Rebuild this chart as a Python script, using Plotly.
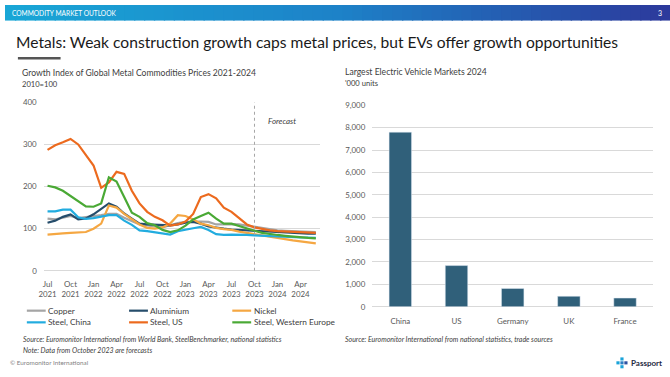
import plotly.graph_objects as go

# ---------------- data ----------------
months = ["Jul 2021", "Aug 2021", "Sep 2021", "Oct 2021", "Nov 2021", "Dec 2021",
          "Jan 2022", "Feb 2022", "Mar 2022", "Apr 2022", "May 2022", "Jun 2022",
          "Jul 2022", "Aug 2022", "Sep 2022", "Oct 2022", "Nov 2022", "Dec 2022",
          "Jan 2023", "Feb 2023", "Mar 2023", "Apr 2023", "May 2023", "Jun 2023",
          "Jul 2023", "Aug 2023", "Sep 2023", "Oct 2023", "Nov 2023", "Dec 2023",
          "Jan 2024", "Feb 2024", "Mar 2024", "Apr 2024", "May 2024", "Jun 2024"]
tick_months = ["Jul 2021", "Oct 2021", "Jan 2022", "Apr 2022", "Jul 2022", "Oct 2022",
               "Jan 2023", "Apr 2023", "Jul 2023", "Oct 2023", "Jan 2024", "Apr 2024"]
tick_labels = ["Jul<br>2021", "Oct<br>2021", "Jan<br>2022", "Apr<br>2022", "Jul<br>2022", "Oct<br>2022",
               "Jan<br>2023", "Apr<br>2023", "Jul<br>2023", "Oct<br>2023", "Jan<br>2024", "Apr<br>2024"]
forecast_start = "Oct 2023"

copper = [124, 122, 126, 130, 125, 127, 129, 132, 135, 135, 126, 118,
          110, 108, 106, 103, 108, 113, 116, 117, 117, 116, 110, 110,
          111, 110, 107, 104, 101, 98, 96, 95, 94, 93, 92, 92]
aluminium = [114, 119, 128, 134, 122, 124, 134, 147, 160, 152, 136, 124,
             112, 110, 109, 108, 108, 110, 114, 116, 112, 105, 102, 100,
             98, 97, 95, 94, 93, 92, 91, 90, 89, 89, 88, 88]
nickel = [86, 88, 89, 90, 91, 92, 100, 112, 155, 150, 135, 122,
          110, 102, 100, 103, 112, 132, 130, 122, 112, 108, 102, 99,
          97, 93, 90, 86, 83, 80, 77, 75, 72, 70, 68, 65]
steel_china = [141, 141, 145, 145, 127, 123, 125, 129, 132, 132, 119, 109,
               96, 94, 91, 88, 86, 94, 98, 101, 104, 97, 87, 85,
               86, 86, 85, 84, 83, 82, 81, 80, 80, 79, 79, 78]
steel_us = [287, 298, 305, 313, 300, 275, 250, 197, 210, 235, 230, 190,
            160, 140, 128, 120, 107, 110, 117, 135, 175, 182, 172, 150,
            140, 125, 110, 103, 99, 96, 94, 93, 92, 91, 91, 90]
steel_we = [202, 198, 190, 178, 166, 153, 152, 160, 222, 212, 175, 138,
            128, 113, 108, 97, 92, 96, 107, 122, 130, 138, 124, 112,
            112, 106, 100, 95, 90, 87, 85, 83, 81, 80, 78, 77]

ev_markets = ["China", "US", "Germany", "UK", "France"]
ev_units = [7800, 1840, 820, 470, 390]

series = [
    ("Copper", copper, "#a5a5a5"),
    ("Aluminium", aluminium, "#264d6b"),
    ("Nickel", nickel, "#f5a742"),
    ("Steel, China", steel_china, "#22acdf"),
    ("Steel, US", steel_us, "#ec6a1e"),
    ("Steel, Western Europe", steel_we, "#4aa935"),
]

FONT = "Lato"
GREY_TXT = "#595959"
W, H = 670, 377

def px_x(x):
    return x / W

def px_y(y):
    return 1 - y / H

fig = go.Figure()

for name, vals, col in series:
    fig.add_trace(go.Scatter(x=months, y=vals, name=name, mode="lines",
                             line=dict(color=col, width=2.2), showlegend=False,
                             xaxis="x", yaxis="y"))

fig.add_trace(go.Bar(x=ev_markets, y=ev_units, marker_color="#30607a",
                     showlegend=False, xaxis="x2", yaxis="y2", width=0.4))

shapes = []
annotations = []

# header gradient strips
stops = [(0.0, (25, 166, 214)), (0.5, (29, 130, 200)), (1.0, (44, 58, 156))]
def interp(t):
    for (t0, c0), (t1, c1) in zip(stops[:-1], stops[1:]):
        if t0 <= t <= t1:
            f = (t - t0) / (t1 - t0)
            return "rgb(%d,%d,%d)" % tuple(round(a + (b - a) * f) for a, b in zip(c0, c1))
    return "rgb(44,58,156)"
n = 67
for k in range(n):
    shapes.append(dict(type="rect", xref="paper", yref="paper",
                       x0=k / n, x1=(k + 1) / n + 0.002, y0=px_y(16), y1=1,
                       fillcolor=interp(k / (n - 1)), line=dict(width=0), layer="below"))
annotations.append(dict(text="COMMODITY MARKET OUTLOOK", x=px_x(5), y=px_y(8), xref="paper", yref="paper",
                        xanchor="left", yanchor="middle", showarrow=False,
                        font=dict(family=FONT, size=6.6, color="white")))
annotations.append(dict(text="3", x=px_x(660), y=px_y(8), xref="paper", yref="paper",
                        xanchor="center", yanchor="middle", showarrow=False,
                        font=dict(family=FONT, size=7, color="white")))

# title + underline
annotations.append(dict(text="Metals: Weak construction growth caps metal prices, but EVs offer growth opportunities",
                        x=px_x(9), y=px_y(38), xref="paper", yref="paper",
                        xanchor="left", yanchor="middle", showarrow=False,
                        font=dict(family=FONT, size=15.6, color="#1a1a1a")))
shapes.append(dict(type="rect", xref="paper", yref="paper", x0=px_x(13), x1=px_x(56),
                   y0=px_y(56), y1=px_y(53.5), fillcolor="#555555", line=dict(width=0)))

# subtitles
def txt(s, x, y, size, color=GREY_TXT, italic=False, anchor="left", bold=False):
    if italic:
        s = "<i>" + s + "</i>"
    if bold:
        s = "<b>" + s + "</b>"
    annotations.append(dict(text=s, x=px_x(x), y=px_y(y), xref="paper", yref="paper",
                            xanchor=anchor, yanchor="middle", showarrow=False,
                            font=dict(family=FONT, size=size, color=color)))

txt("Growth Index of Global Metal Commodities Prices 2021-2024", 15, 70, 8.6, "#404040")
txt("2010=100", 15, 81, 7.6, "#404040")
txt("Largest Electric Vehicle Markets 2024", 341, 69, 8.6, "#404040")
txt("'000 units", 341, 80, 7.6, "#404040")

# forecast marker
shapes.append(dict(type="line", xref="x", yref="y", x0=forecast_start, x1=forecast_start,
                   y0=0, y1=400, line=dict(color="#a6a6a6", width=1, dash="dot")))
annotations.append(dict(text="<i>Forecast</i>", x=forecast_start, y=355, xref="x", yref="y",
                        xanchor="left", xshift=12, yanchor="middle", showarrow=False,
                        font=dict(family=FONT, size=8, color="#404040")))

# legend (manual)
leg_pos = [(22, 314), (125, 314), (229, 314), (22, 326), (125, 326), (229, 326)]
for (name, vals, col), (lx, ly) in zip(series, leg_pos):
    shapes.append(dict(type="line", xref="paper", yref="paper", x0=px_x(lx), x1=px_x(lx + 19),
                       y0=px_y(ly), y1=px_y(ly), line=dict(color=col, width=2.2)))
    txt(name, lx + 19.5, ly, 8.3, "#404040")

# sources
txt("Source: Euromonitor International from World Bank, SteelBenchmarker, national statistics", 16, 344, 7, "#404040", italic=True)
txt("Note: Data from October 2023 are forecasts", 16, 354, 7, "#404040", italic=True)
txt("Source: Euromonitor International from national statistics, trade sources", 341, 344, 7, "#404040", italic=True)
txt("© Euromonitor International", 3, 367, 6.3, "#7f7f7f")

# Passport logo
for (x0, y0, c) in [(620, 362, "#1aa3d9"), (624, 366, "#2c4fa0"), (620, 366, "#2b7dc4"), (616, 366, "#1aa3d9"), (620, 370, "#1aa3d9")]:
    shapes.append(dict(type="rect", xref="paper", yref="paper", x0=px_x(x0), x1=px_x(x0 + 3.2),
                       y0=px_y(y0 + 3.2), y1=px_y(y0), fillcolor=c, line=dict(width=0)))
txt("Passport", 629, 367.5, 8, "#1f2a44", bold=True)

axis_font = dict(family=FONT, size=7.9, color=GREY_TXT)

fig.update_layout(
    width=W, height=H,
    margin=dict(l=0, r=0, t=0, b=0),
    paper_bgcolor="white", plot_bgcolor="white",
    shapes=shapes, annotations=annotations,
    xaxis=dict(domain=[px_x(39), px_x(317)], type="category", categoryorder="array",
               categoryarray=months, range=[-0.5, 35.5],
               tickmode="array", tickvals=tick_months, ticktext=tick_labels,
               showgrid=False, showline=False, ticks="", tickfont=axis_font,
               ticklabelstandoff=7),
    yaxis=dict(domain=[px_y(273), px_y(100)], range=[0, 400], dtick=100,
               showgrid=True, gridcolor="#d9d9d9", gridwidth=1, zeroline=True,
               zerolinecolor="#d9d9d9", zerolinewidth=1, showline=False, ticks="",
               tickfont=axis_font, ticklabelstandoff=6),
    xaxis2=dict(domain=[px_x(370), px_x(653)], anchor="y2", type="category",
                showgrid=False, showline=False, ticks="", tickfont=axis_font,
                ticklabelstandoff=8),
    yaxis2=dict(domain=[px_y(310), px_y(103)], anchor="x2", range=[0, 9000], dtick=1000,
                tickformat=",d", showgrid=True, gridcolor="#d9d9d9", gridwidth=1,
                zeroline=True, zerolinecolor="#d9d9d9", zerolinewidth=1, ticks="",
                tickfont=axis_font, ticklabelstandoff=6),
)

fig.write_html("out.html", config={"displayModeBar": False},
               post_script="document.body.style.margin='0';document.body.style.overflow='hidden';")
